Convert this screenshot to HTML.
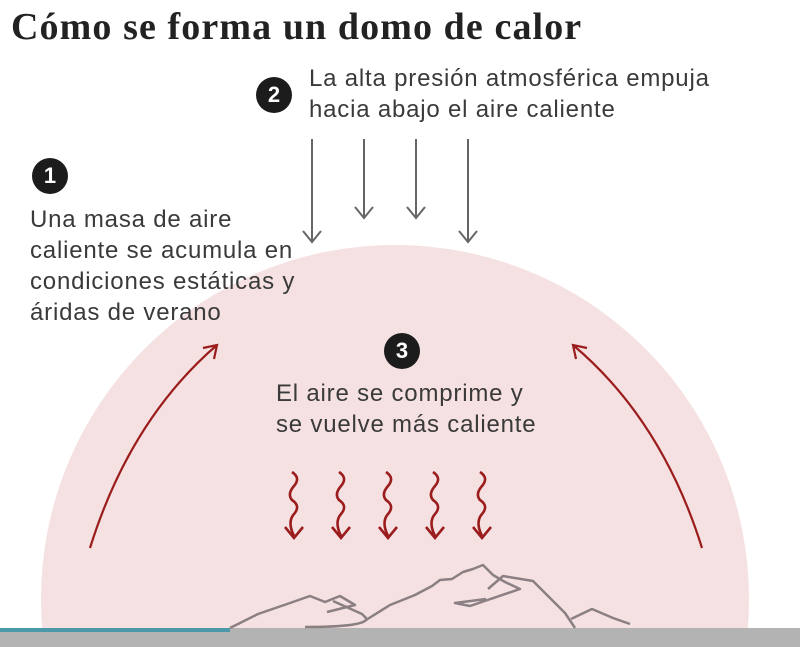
<!DOCTYPE html>
<html><head><meta charset="utf-8"><style>
html,body{margin:0;width:800px;height:647px;background:#fff;overflow:hidden;position:relative;font-family:"Liberation Sans",sans-serif}
.t{position:absolute;color:#3a3a3a;font-size:24px;line-height:31px;letter-spacing:0.8px;white-space:nowrap}
.n{position:absolute;width:36px;height:36px;border-radius:50%;background:#1c1c1c;color:#fff;font-weight:bold;font-size:22px;text-align:center;line-height:36px}
</style></head><body>
<svg width="800" height="647" style="position:absolute;left:0;top:0;overflow:hidden">
<circle cx="395" cy="599" r="354" fill="#f5e1e1"/>
<rect x="0" y="628" width="800" height="19" fill="#b3b3b3"/>
<rect x="0" y="628" width="230" height="4" fill="#4b98a8"/>
<g stroke="#666" stroke-width="2" fill="none">
<path d="M312 139V242M303 231l9 11 9-11"/>
<path d="M364 139V218M355 207l9 11 9-11"/>
<path d="M416 139V218M407 207l9 11 9-11"/>
<path d="M468 139V242M459 231l9 11 9-11"/>
</g>
<g stroke="#9b1c1c" stroke-width="2.2" fill="none">
<path d="M90 548 Q130 420 217 345M203 348l14-3-3 14"/>
<path d="M702 548 Q662 420 573 345M587 348l-14-3 3 14"/>
<g id="w" stroke-width="2.6"><path d="M292 472q9 6 2 14t-2 14q9 6 2 14t0 22M285 527l9 11 9-11"/></g>
<use href="#w" x="47"/><use href="#w" x="94"/><use href="#w" x="141"/><use href="#w" x="188"/>
</g>
<g stroke="#8a7f82" stroke-width="2.5" fill="none" stroke-linejoin="round">
<path d="M230 628L258 614L290 603L310 596L325 602L340 596L355 605L327 612"/>
<path d="M305 627Q360 627 366 620L390 605L415 595L432 586L440 580L452 579L463 572L473 569L483 565L493 575L505 582L520 589L470 606L455 603L486 599"/>
<path d="M333 601L362 614L368 620"/>
<path d="M488 589L503 576L533 581L565 613L575 628M571 619L592 609L613 618L630 624"/>
</g>
</svg>
<div style="position:absolute;left:11px;top:5px;font-family:'Liberation Serif',serif;font-weight:bold;font-size:38px;letter-spacing:1.1px;color:#222;white-space:nowrap">Cómo se forma un domo de calor</div>
<div class="n" style="left:256px;top:77px">2</div>
<div class="t" style="left:309px;top:63px">La alta presión atmosférica empuja<br>hacia abajo el aire caliente</div>
<div class="n" style="left:32px;top:158px">1</div>
<div class="t" style="left:30px;top:204px">Una masa de aire<br>caliente se acumula en<br>condiciones estáticas y<br>áridas de verano</div>
<div class="n" style="left:384px;top:333px">3</div>
<div class="t" style="left:276px;top:378px">El aire se comprime y<br>se vuelve más caliente</div>
</body></html>
